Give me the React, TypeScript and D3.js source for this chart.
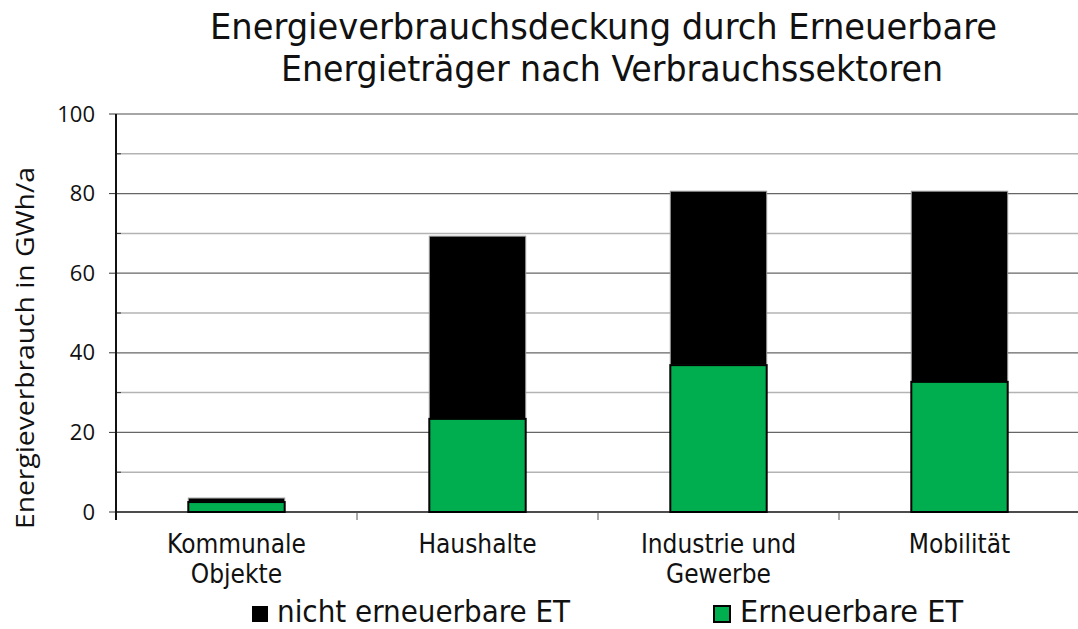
import React from "react";
import * as d3 from "d3";

const categories = [["Kommunale", "Objekte"], ["Haushalte"], ["Industrie und", "Gewerbe"], ["Mobilität"]];
const renewable = [2.5, 23.4, 36.9, 32.7];
const nonRenewable = [1.0, 45.9, 43.7, 47.9];
const yTicks = [0, 20, 40, 60, 80, 100];
const minorTicks = [10, 30, 50, 70, 90];
const seriesNames = ["nicht erneuerbare ET", "Erneuerbare ET"];
const titleLines = ["Energieverbrauchsdeckung durch Erneuerbare", "Energieträger nach Verbrauchssektoren"];

export default function App() {
  const W = 1078, H = 629;
  const left = 116, right = 1080, top = 114, bottom = 512;
  const x = d3.scaleBand<number>().domain(d3.range(categories.length)).range([left, right]).paddingInner(0.6).paddingOuter(0.3);
  const xb = d3.scaleBand<number>().domain(d3.range(categories.length)).range([left, right]);
  const y = d3.scaleLinear().domain([0, 100]).range([bottom, top]);
  const font = "'DejaVu Sans Condensed', 'DejaVu Sans', sans-serif";
  const titleGeom = [{ cx: 603.5, len: 787, y: 39 }, { cx: 612, len: 662, y: 81 }];
  return (
    <svg width={W} height={H} style={{ position: "absolute", left: 0, top: 0, background: "#fff" }}>
      {titleLines.map((t, i) => (
        <text key={i} x={titleGeom[i].cx} y={titleGeom[i].y} textAnchor="middle" fontFamily={font} fontSize={35}
          textLength={titleGeom[i].len} lengthAdjust="spacingAndGlyphs" fill="#111">{t}</text>
      ))}
      {minorTicks.map(v => (
        <g key={"m" + v}>
          <line x1={left} x2={right} y1={y(v)} y2={y(v)} stroke="#b3b3b3" strokeWidth={1.5} />
          <line x1={left} x2={left + 5} y1={y(v)} y2={y(v)} stroke="#333" strokeWidth={1} />
        </g>
      ))}
      {yTicks.map(v => (
        <g key={"t" + v}>
          {v > 0 && <line x1={left} x2={right} y1={y(v)} y2={y(v)} stroke={v === 100 ? "#888" : "#666"} strokeWidth={1.3} />}
          <line x1={left - 7} x2={left} y1={y(v)} y2={y(v)} stroke="#333" strokeWidth={1} />
          <text x={left - 21} y={y(v) + 7.5} textAnchor="end" fontFamily="'Open Sans', sans-serif" fontSize={22} fill="#111">{v}</text>
        </g>
      ))}
      <line x1={left} x2={left} y1={top} y2={bottom + 8} stroke="#111" strokeWidth={2} />
      <line x1={left} x2={right} y1={bottom} y2={bottom} stroke="#111" strokeWidth={1.5} />
      {d3.range(1, categories.length).map(i => (
        <line key={"xt" + i} x1={xb(i)!} x2={xb(i)!} y1={bottom} y2={bottom + 8} stroke="#555" strokeWidth={1} />
      ))}
      {categories.map((c, i) => {
        const g = renewable[i], n = nonRenewable[i];
        return (
          <g key={"b" + i}>
            <rect x={x(i)!} width={x.bandwidth()} y={y(g + n)} height={y(g) - y(g + n)} fill="#000" stroke="#999" strokeWidth={1} />
            <rect x={x(i)!} width={x.bandwidth()} y={y(g)} height={y(0) - y(g)} fill="#00ae4f" stroke="#000" strokeWidth={2} />
            {c.map((l, j) => (
              <text key={j} x={xb(i)! + xb.bandwidth() / 2} y={553 + j * 30} textAnchor="middle" fontFamily={font} fontSize={26} fill="#111">{l}</text>
            ))}
          </g>
        );
      })}
      <text transform="translate(34,529) rotate(-90)" textAnchor="start" fontFamily="'Open Sans', sans-serif" fontSize={25}
        textLength={362} lengthAdjust="spacingAndGlyphs" fill="#111">Energieverbrauch in GWh/a</text>
      <rect x={252} y={606} width={16} height={16} fill="#000" />
      <text x={277} y={622} fontFamily={font} fontSize={30} textLength={293} lengthAdjust="spacingAndGlyphs" fill="#111">{seriesNames[0]}</text>
      <rect x={714} y={606} width={16} height={16} fill="#00ae4f" stroke="#000" strokeWidth={2} />
      <text x={740} y={622} fontFamily={font} fontSize={30} textLength={223} lengthAdjust="spacingAndGlyphs" fill="#111">{seriesNames[1]}</text>
    </svg>
  );
}
